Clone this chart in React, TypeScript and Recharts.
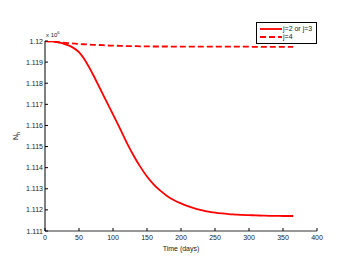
import { Label, Legend, Line, LineChart, XAxis, YAxis } from 'recharts';

// days sampled along the simulation
const days = [
  0, 10, 20, 30, 40, 50, 60, 70, 80, 90, 100, 110, 120, 130, 140, 150, 160, 170, 180, 190,
  200, 210, 220, 230, 240, 250, 260, 270, 280, 290, 300, 310, 320, 330, 340, 350, 360, 365,
];

// N_h (x 10^6)
const nhJ23 = [
  1.12, 1.11998, 1.11993, 1.11984, 1.11971, 1.11947, 1.11903, 1.11845, 1.11781, 1.11716,
  1.11652, 1.11587, 1.1152, 1.11459, 1.11405, 1.11358, 1.1132, 1.1129, 1.11265, 1.11246,
  1.11231, 1.11218, 1.11207, 1.11199, 1.11192, 1.11187, 1.11183, 1.1118, 1.11178, 1.11176,
  1.11175, 1.11174, 1.11173, 1.11172, 1.11172, 1.11171, 1.11171, 1.11171,
];
const nhJ4 = [
  1.12, 1.11998, 1.11994, 1.11991, 1.11989, 1.11986, 1.11984, 1.11982, 1.11981, 1.11979,
  1.11978, 1.11977, 1.11976, 1.11976, 1.11975, 1.11975, 1.11974, 1.11974, 1.11974, 1.11973,
  1.11973, 1.11973, 1.11973, 1.11973, 1.11973, 1.11973, 1.11973, 1.11973, 1.11973, 1.11973,
  1.11973, 1.11972, 1.11972, 1.11972, 1.11972, 1.11972, 1.11972, 1.11972,
];

const xTicks = [0, 50, 100, 150, 200, 250, 300, 350, 400];
const yTicks = [1.111, 1.112, 1.113, 1.114, 1.115, 1.116, 1.117, 1.118, 1.119, 1.12];

const series = [
  { key: 'j23', name: 'j=2 or j=3', dash: undefined as string | undefined },
  { key: 'j4', name: 'j=4', dash: '6 3' },
];

const data = days.map((d, i) => ({ day: d, j23: nhJ23[i], j4: nhJ4[i] }));

const FONT = '"Liberation Sans", Arial, sans-serif';
const RED = '#ff0000';

const BottomTick = ({ x, y, payload }: any) => (
  <g>
    <line x1={x} x2={x} y1={y} y2={y - 3} stroke="#000" />
    <text x={x} y={y + 9} textAnchor="middle" fontSize={7} fill="#222" fontFamily={FONT}>
      {payload.value}
    </text>
  </g>
);

const LeftTick = ({ x, y, payload }: any) => (
  <g>
    <line x1={x} x2={x + 3} y1={y} y2={y} stroke="#000" />
    <text x={x - 2} y={y + 2.5} textAnchor="end" fontSize={7} fill="#222" fontFamily={FONT}>
      {payload.value}
    </text>
  </g>
);

const TopTick = ({ x, y }: any) => <line x1={x} x2={x} y1={y} y2={y + 3} stroke="#000" />;
const RightTick = ({ x, y }: any) => <line x1={x} x2={x - 3} y1={y} y2={y} stroke="#000" />;

const YTitle = ({ viewBox }: any) => {
  const cx = viewBox.x + 16;
  const cy = viewBox.y + viewBox.height / 2;
  return (
    <g fontFamily={FONT} fill="#222">
      <text transform={`rotate(-90, ${cx}, ${cy})`} x={cx} y={cy + 2} textAnchor="middle" fontSize={7}>
        N<tspan fontSize={5} dy={2}>h</tspan>
      </text>
      <text x={viewBox.x + viewBox.width + 1} y={viewBox.y - 4} fontSize={6}>
        x 10<tspan fontSize={4} dy={-3}>6</tspan>
      </text>
    </g>
  );
};

const LegendBox = () => (
  <div
    style={{
      border: '1px solid #000',
      background: '#fff',
      padding: '2px 4px 2px 2px',
      fontFamily: FONT,
      fontSize: 7,
      color: '#222',
      lineHeight: '8px',
    }}
  >
    {series.map((s) => (
      <div key={s.key} style={{ display: 'flex', alignItems: 'center', whiteSpace: 'nowrap' }}>
        <svg width={24} height={8}>
          <line x1={1} x2={23} y1={4} y2={4} stroke={RED} strokeWidth={1.8} strokeDasharray={s.dash} />
        </svg>
        <span>{s.name}</span>
      </div>
    ))}
  </div>
);

export default function App() {
  return (
    <div style={{ position: 'absolute', left: 0, top: 0, width: 350, height: 260, background: '#fff' }}>
      <LineChart width={350} height={260} data={data} margin={{ top: 19, right: 33, bottom: 0, left: 0 }}>
        <XAxis
          dataKey="day"
          type="number"
          domain={[0, 400]}
          ticks={xTicks}
          interval={0}
          height={29}
          stroke="#333"
          tickSize={0}
          tickMargin={0}
          tick={<BottomTick />}
        >
          <Label value="Time (days)" position="insideBottom" offset={9} fontSize={7} fill="#222" fontFamily={FONT} />
        </XAxis>
        <XAxis
          xAxisId="top"
          orientation="top"
          dataKey="day"
          type="number"
          domain={[0, 400]}
          ticks={xTicks}
          interval={0}
          height={0}
          stroke="#777"
          tickSize={0}
          tickMargin={0}
          tick={<TopTick />}
        />
        <YAxis
          type="number"
          domain={[1.111, 1.12]}
          ticks={yTicks}
          interval={0}
          allowDataOverflow
          width={45}
          stroke="#000"
          tickSize={0}
          tickMargin={0}
          tick={<LeftTick />}
          label={<YTitle />}
        />
        <YAxis
          yAxisId="right"
          orientation="right"
          type="number"
          domain={[1.111, 1.12]}
          ticks={yTicks}
          interval={0}
          allowDataOverflow
          width={0}
          stroke="#888"
          tickSize={0}
          tickMargin={0}
          tick={<RightTick />}
        />
        <Legend
          layout="vertical"
          align="center"
          verticalAlign="top"
          wrapperStyle={{ top: 22, left: 256, width: 'auto' }}
          content={<LegendBox />}
        />
        {series.map((s) => (
          <Line
            key={s.key}
            dataKey={s.key}
            name={s.name}
            type="monotone"
            stroke={RED}
            strokeWidth={1.8}
            strokeDasharray={s.dash}
            dot={false}
            isAnimationActive={false}
          />
        ))}
      </LineChart>
    </div>
  );
}
